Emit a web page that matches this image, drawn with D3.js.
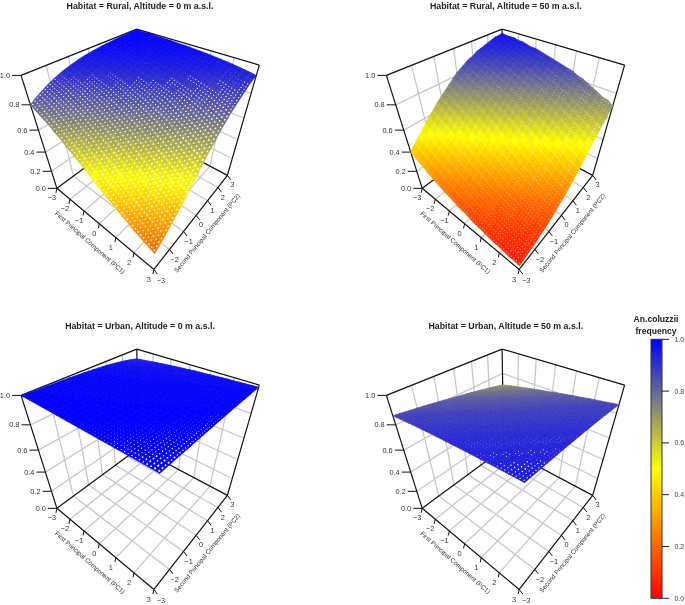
<!DOCTYPE html>
<html><head><meta charset="utf-8">
<script src="https://cdn.jsdelivr.net/npm/d3@7"></script>
<style>
html,body{margin:0;padding:0;background:#fff;overflow:hidden}
svg{display:block;filter:blur(0.4px)}
text{font-family:"Liberation Sans",Arial,sans-serif}
</style></head><body><div id="chart"></div>
<script>
// An. coluzzii frequency in percent. Rows: PC1 from -3 to 3 by 0.25; columns: PC2 from -3 to 3 by 0.25.
const rural0 = [
[80,82.6,84.8,86.9,88.6,90.2,91.6,92.8,93.8,94.7,95.5,96.2,96.7,97.2,97.6,98,98.3,98.5,98.8,99,99.1,99.2,99.4,99.5,99.5],
[78,81,83,85,87,89,91,92,93,94,95,96,96,97,97,98,98,98,99,99,99,99,99,99,99.5],
[76,79,82,84,86,88,90,91,92,93,94,95,96,96,97,97,98,98,98,99,99,99,99,99,99.4],
[74,77,80,82,85,87,88,90,91,93,94,95,95,96,97,97,98,98,98,99,99,99,99,99,99.3],
[72,75,78,81,83,85,87,89,91,92,93,94,95,96,96,97,97,98,98,98,99,99,99,99,99.3],
[69,73,76,79,81,84,86,88,89,91,92,93,94,95,96,96,97,97,98,98,98,99,99,99,99.2],
[67,70,74,77,79,82,84,86,88,90,91,93,94,95,95,96,97,97,98,98,98,98,99,99,99.1],
[64,68,71,75,78,80,83,85,87,89,90,92,93,94,95,96,96,97,97,98,98,98,99,99,99],
[61,65,69,72,75,78,81,83,86,88,89,91,92,93,94,95,96,96,97,97,98,98,98,99,98.9],
[59,63,66,70,73,76,79,82,84,86,88,90,91,92,94,94,95,96,97,97,98,98,98,98,98.7],
[56,60,64,68,71,74,77,80,83,85,87,89,90,92,93,94,95,96,96,97,97,98,98,98,98.5],
[53,57,61,65,68,72,75,78,81,83,85,87,89,91,92,93,94,95,96,96,97,97,98,98,98.4],
[50,54,58,62,66,70,73,76,79,82,84,86,88,90,91,92,93,94,95,96,96,97,97,98,98.2],
[47,51,55,59,63,67,71,74,77,80,82,85,87,88,90,91,93,94,95,95,96,97,97,98,97.9],
[44,48,52,57,61,65,68,72,75,78,81,83,85,87,89,91,92,93,94,95,96,96,97,97,97.7],
[41,46,50,54,58,62,66,69,73,76,79,81,84,86,88,89,91,92,93,94,95,96,96,97,97.4],
[39,43,47,51,55,59,63,67,70,74,77,80,82,85,87,88,90,91,93,94,95,95,96,97,97.1],
[36,40,44,48,52,56,60,64,68,71,75,78,80,83,85,87,89,90,92,93,94,95,96,96,96.8],
[33,37,41,45,49,53,57,61,65,69,72,76,78,81,83,86,88,89,91,92,93,94,95,96,96.4],
[31,35,38,42,46,50,55,59,63,66,70,73,76,79,82,84,86,88,90,91,92,94,94,95,96],
[28,32,35,39,43,47,52,56,60,64,67,71,74,77,80,83,85,87,89,90,92,93,94,95,95.5],
[26,30,33,37,41,45,49,53,57,61,65,69,72,75,78,81,83,86,88,89,91,92,93,94,95],
[24,27,30,34,38,42,46,50,54,58,62,66,70,73,76,79,82,84,86,88,90,91,92,93,94.4],
[22,25,28,32,35,39,43,47,51,55,60,64,67,71,74,77,80,83,85,87,89,90,92,93,93.8],
[20,23,26,29,33,36,40,44,49,52,57,61,65,68,72,75,78,81,83,85,87,89,91,92,93]];
const rural50 = [
[40,44,48,52,56,60,63,67,70,73,76,79,82,84,86,88,89,91,92,93,94,95,96,96,97],
[37,41,45,49,53,57,61,65,68,71,74,77,80,82,85,87,88,90,91,92,93,94,95,96,96],
[35,39,43,47,50,54,58,62,66,69,73,76,78,81,83,85,87,89,90,92,93,94,95,95,96],
[33,36,40,44,48,52,56,60,63,67,70,73,76,79,82,84,86,88,89,91,92,93,94,95,96],
[30,34,37,41,45,49,53,57,61,65,68,71,74,77,80,82,85,87,88,90,91,92,93,94,95],
[28,32,35,39,43,47,50,54,58,62,66,69,73,76,78,81,83,85,87,89,90,92,93,94,95],
[26,29,33,36,40,44,48,52,56,60,63,67,70,73,76,79,82,84,86,88,89,91,92,93,94],
[24,27,30,34,37,41,45,49,53,57,61,65,68,71,74,77,80,82,85,87,88,90,91,92,93],
[22,25,28,32,35,39,43,47,50,54,58,62,66,69,73,76,78,81,83,85,87,89,90,92,93],
[21,23,26,29,33,36,40,44,48,52,56,60,63,67,70,73,76,79,82,84,86,88,89,91,92],
[19,21,24,27,30,34,37,41,45,49,53,57,61,65,68,71,74,77,80,82,85,87,88,90,91],
[17,20,22,25,28,32,35,39,43,47,50,54,58,62,66,69,73,76,78,81,83,85,87,89,90],
[16,18,21,23,26,29,33,36,40,44,48,52,56,60,63,67,70,73,76,79,82,84,86,88,89],
[15,17,19,21,24,27,30,34,37,41,45,49,53,57,61,65,68,71,74,77,80,82,85,87,88],
[13,15,17,20,22,25,28,32,35,39,43,47,50,54,58,62,66,69,73,76,78,81,83,85,87],
[12,14,16,18,21,23,26,29,33,36,40,44,48,52,56,60,63,67,70,73,76,79,82,84,86],
[11,13,15,17,19,21,24,27,30,34,37,41,45,49,53,57,61,65,68,71,74,77,80,82,85],
[10,12,13,15,17,20,22,25,28,32,35,39,43,47,50,54,58,62,66,69,73,76,78,81,83],
[9,11,12,14,16,18,21,23,26,29,33,36,40,44,48,52,56,60,63,67,70,73,76,79,82],
[8,10,11,13,15,17,19,21,24,27,30,34,37,41,45,49,53,57,61,65,68,71,74,77,80],
[8,9,10,12,13,15,17,20,22,25,28,32,35,39,43,47,50,54,58,62,66,69,73,76,78],
[7,8,9,11,12,14,16,18,21,23,26,29,33,36,40,44,48,52,56,60,63,67,70,73,76],
[6,7,8,10,11,13,15,17,19,21,24,27,30,34,37,41,45,49,53,57,61,65,68,71,74],
[6,7,8,9,10,12,13,15,17,20,22,25,28,32,35,39,43,47,50,54,58,62,66,69,73],
[5,6,7,8,9,11,12,14,16,18,21,23,26,29,33,36,40,44,48,52,56,60,63,67,70]];
const urban0 = [
[99.6,99.5,99.5,99.4,99.3,99.2,99.1,99,98.9,98.7,98.5,98.4,98.1,97.9,97.6,97.3,97,96.6,96.1,95.6,95.1,94.5,93.8,93,92.1],
[100,100,100,99,99,99,99,99,99,99,99,99,98,98,98,98,97,97,97,96,96,95,94,94,92.6],
[100,100,100,99,99,99,99,99,99,99,99,99,98,98,98,98,97,97,97,96,96,95,94,94,93],
[100,100,100,100,99,99,99,99,99,99,99,99,99,98,98,98,98,97,97,97,96,96,95,94,93.4],
[100,100,100,100,99,99,99,99,99,99,99,99,99,98,98,98,98,97,97,97,96,96,95,94,93.9],
[100,100,100,100,100,99,99,99,99,99,99,99,99,99,98,98,98,98,97,97,97,96,96,95,94.2],
[100,100,100,100,100,99,99,99,99,99,99,99,99,99,98,98,98,98,97,97,97,96,96,95,94.6],
[100,100,100,100,100,100,99,99,99,99,99,99,99,99,99,98,98,98,98,97,97,97,96,96,94.9],
[100,100,100,100,100,100,99,99,99,99,99,99,99,99,99,98,98,98,98,97,97,97,96,96,95.3],
[100,100,100,100,100,100,100,99,99,99,99,99,99,99,99,99,98,98,98,98,97,97,97,96,95.6],
[100,100,100,100,100,100,100,99,99,99,99,99,99,99,99,99,98,98,98,98,97,97,97,96,95.9],
[100,100,100,100,100,100,100,100,99,99,99,99,99,99,99,99,99,98,98,98,98,97,97,97,96.1],
[100,100,100,100,100,100,100,100,99,99,99,99,99,99,99,99,99,98,98,98,98,97,97,97,96.4],
[100,100,100,100,100,100,100,100,100,99,99,99,99,99,99,99,99,99,98,98,98,98,97,97,96.7],
[100,100,100,100,100,100,100,100,100,100,99,99,99,99,99,99,99,99,99,98,98,98,98,97,96.9],
[100,100,100,100,100,100,100,100,100,100,99,99,99,99,99,99,99,99,99,98,98,98,98,97,97.1],
[100,100,100,100,100,100,100,100,100,100,100,99,99,99,99,99,99,99,99,99,98,98,98,98,97.3],
[100,100,100,100,100,100,100,100,100,100,100,99,99,99,99,99,99,99,99,99,98,98,98,98,97.5],
[100,100,100,100,100,100,100,100,100,100,100,100,99,99,99,99,99,99,99,99,99,98,98,98,97.7],
[100,100,100,100,100,100,100,100,100,100,100,100,99,99,99,99,99,99,99,99,99,98,98,98,97.9],
[100,100,100,100,100,100,100,100,100,100,100,100,100,99,99,99,99,99,99,99,99,99,98,98,98],
[100,100,100,100,100,100,100,100,100,100,100,100,100,99,99,99,99,99,99,99,99,99,98,98,98.2],
[100,100,100,100,100,100,100,100,100,100,100,100,100,100,99,99,99,99,99,99,99,99,99,98,98.3],
[100,100,100,100,100,100,100,100,100,100,100,100,100,100,99,99,99,99,99,99,99,99,99,98,98.5],
[99.9,99.9,99.9,99.9,99.9,99.8,99.8,99.8,99.8,99.7,99.7,99.7,99.6,99.5,99.5,99.4,99.3,99.3,99.2,99.1,99,98.9,98.8,98.7,98.6]];
const urban50 = [
[86.5,86,85.4,84.8,84.3,83.7,83,82.4,81.8,81.1,80.4,79.7,79,78.3,77.6,76.9,76.1,75.4,74.6,73.8,73,72.2,71.4,70.5,69.4],
[87,87,86,85,85,84,84,83,83,82,81,81,80,79,79,78,77,76,75,75,74,73,72,71,70.5],
[87.5,87,87,86,85,85,84,84,83,83,82,81,81,80,79,79,78,77,76,75,75,74,73,72,71.4],
[88,88,87,87,86,85,85,84,84,83,83,82,81,81,80,79,79,78,77,76,75,75,74,73,72.2],
[88.4,88,88,87,87,86,85,85,84,84,83,83,82,81,81,80,79,79,78,77,76,75,75,74,73],
[88.9,88,88,88,87,87,86,85,85,84,84,83,83,82,81,81,80,79,79,78,77,76,75,75,73.8],
[89.3,89,88,88,88,87,87,86,85,85,84,84,83,83,82,81,81,80,79,79,78,77,76,75,74.6],
[89.7,89,89,88,88,88,87,87,86,85,85,84,84,83,83,82,81,81,80,79,79,78,77,76,75.4],
[90.1,90,89,89,88,88,88,87,87,86,85,85,84,84,83,83,82,81,81,80,79,79,78,77,76.1],
[90.5,90,90,89,89,88,88,88,87,87,86,85,85,84,84,83,83,82,81,81,80,79,79,78,76.9],
[90.8,90,90,90,89,89,88,88,88,87,87,86,85,85,84,84,83,83,82,81,81,80,79,79,77.6],
[91.2,91,90,90,90,89,89,88,88,88,87,87,86,85,85,84,84,83,83,82,81,81,80,79,78.3],
[91.5,91,91,90,90,90,89,89,88,88,88,87,87,86,85,85,84,84,83,83,82,81,81,80,79],
[91.8,92,91,91,90,90,90,89,89,88,88,88,87,87,86,85,85,84,84,83,83,82,81,81,79.7],
[92.2,92,92,91,91,90,90,90,89,89,88,88,88,87,87,86,85,85,84,84,83,83,82,81,80.4],
[92.5,92,92,92,91,91,90,90,90,89,89,88,88,88,87,87,86,85,85,84,84,83,83,82,81.1],
[92.8,92,92,92,92,91,91,90,90,90,89,89,88,88,88,87,87,86,85,85,84,84,83,83,81.8],
[93.1,93,92,92,92,92,91,91,90,90,90,89,89,88,88,88,87,87,86,85,85,84,84,83,82.4],
[93.3,93,93,92,92,92,92,91,91,90,90,90,89,89,88,88,88,87,87,86,85,85,84,84,83],
[93.6,93,93,93,92,92,92,92,91,91,90,90,90,89,89,88,88,88,87,87,86,85,85,84,83.7],
[93.9,94,93,93,93,92,92,92,92,91,91,90,90,90,89,89,88,88,88,87,87,86,85,85,84.3],
[94.1,94,94,93,93,93,92,92,92,92,91,91,90,90,90,89,89,88,88,88,87,87,86,85,84.8],
[94.3,94,94,94,93,93,93,92,92,92,92,91,91,90,90,90,89,89,88,88,88,87,87,86,85.4],
[94.6,94,94,94,94,93,93,93,92,92,92,92,91,91,90,90,90,89,89,88,88,88,87,87,86],
[94.8,94.6,94.3,94.1,93.9,93.6,93.3,93.1,92.8,92.5,92.2,91.8,91.5,91.2,90.8,90.5,90.1,89.7,89.3,88.9,88.4,88,87.5,87,86.5]];

const panelTitles = ["Habitat = Rural, Altitude = 0 m a.s.l.","Habitat = Rural, Altitude = 50 m a.s.l.","Habitat = Urban, Altitude = 0 m a.s.l.","Habitat = Urban, Altitude = 50 m a.s.l."];
const panelData = [rural0, rural50, urban0, urban50];
const pcTicks = [-3,-2,-1,0,1,2,3];
const freqTicks = [0,0.2,0.4,0.6,0.8,1];
const pc1Title = "First Principal Component (PC1)";
const pc2Title = "Second Principal Component (PC2)";
const legendTitle = ["An.coluzzii","frequency"];

const W = 685, H = 605;
const svg = d3.select("#chart").append("svg").attr("width",W).attr("height",H).attr("viewBox",[0,0,W,H]);
const color = d3.scaleLinear().domain([0,0.5,1]).range(["#ff0000","#ffff00","#0000ff"]);
const indexToPC = d3.scaleLinear().domain([0,24]).range([-3,3]);
const fmtTick = d => String(d).replace("-","\u2212");

// Camera calibrated on the frame of the first panel: [PC1, PC2, height] -> screen.
const frameAnchors = [
 [-3,-3,0,57,188],[-1,-3,0,83.3,211.7],[0,-3,0,99,223.3],[1,-3,0,116,237.7],[2,-3,0,134,252.7],[3,-3,0,154,269],
 [3,0,0,197.3,215.7],[3,1,0,207.3,201],[3,2,0,218,188.3],[3,3,0,227,174.5],
 [-3,-3,1,20.7,75],[-3,-3,.8,30.5,105],[-3,-3,.6,38.8,131],[-3,-3,.4,45.5,152],[-3,-3,.2,51.6,171],
 [3,3,1,259,65],[-3,3,1,137,29]];
function solveCamera(a){
  const n=11, A=d3.range(n).map(()=>new Array(n+1).fill(0));
  const add=(r,b)=>{for(let i=0;i<n;i++){for(let j=0;j<n;j++)A[i][j]+=r[i]*r[j];A[i][n]+=r[i]*b;}};
  a.forEach(([X,Y,Z,u,v])=>{
    add([X,Y,Z,1,0,0,0,0,-u*X,-u*Y,-u*Z],u);
    add([0,0,0,0,X,Y,Z,1,-v*X,-v*Y,-v*Z],v);
  });
  for(let c=0;c<n;c++){
    let p=c;for(let r=c+1;r<n;r++)if(Math.abs(A[r][c])>Math.abs(A[p][c]))p=r;
    [A[c],A[p]]=[A[p],A[c]];
    for(let r=0;r<n;r++)if(r!==c){const f=A[r][c]/A[c][c];for(let k=c;k<=n;k++)A[r][k]-=f*A[c][k];}
  }
  return A.map((r,i)=>r[n]/r[i]);
}
const cam = solveCamera(frameAnchors);
function project(X,Y,Z){
  const w=cam[8]*X+cam[9]*Y+cam[10]*Z+1;
  return [(cam[0]*X+cam[1]*Y+cam[2]*Z+cam[3])/w,(cam[4]*X+cam[5]*Y+cam[6]*Z+cam[7])/w];
}
const seg = (g,a,b,stroke,sw)=>{const p=project(...a),q=project(...b);
  g.append("line").attr("x1",p[0]).attr("y1",p[1]).attr("x2",q[0]).attr("y2",q[1]).attr("stroke",stroke).attr("stroke-width",sw);};
const pathOf = d3.line();

const offsets=[[0,0],[365.3,0],[0,320],[365.3,320]];
const titleX=[140,505.8,140,505.8], titleY=[8.5,8.5,328.5,328.5];
const dotRadius=[1.7,1.85,1.5,1.55];

panelData.forEach((values,pi)=>{
  const g=svg.append("g").attr("transform",`translate(${offsets[pi]})`);
  const grid="#c8c8c8", ink="#111";
  pcTicks.slice(1,-1).forEach(t=>{
    seg(g,[t,-3,0],[t,3,0],grid,1.3); seg(g,[-3,t,0],[3,t,0],grid,1.3);
    seg(g,[t,3,0],[t,3,1],grid,1.3); seg(g,[-3,t,0],[-3,t,1],grid,1.3);
  });
  freqTicks.slice(1,-1).forEach(z=>{seg(g,[-3,-3,z],[-3,3,z],grid,1.3);seg(g,[-3,3,z],[3,3,z],grid,1.3);});
  [[[-3,-3,0],[3,-3,0]],[[3,-3,0],[3,3,0]],[[-3,-3,0],[-3,3,0]],[[-3,3,0],[3,3,0]],
   [[-3,-3,0],[-3,-3,1]],[[3,3,0],[3,3,1]],[[-3,3,0],[-3,3,1]],[[-3,-3,1],[-3,3,1]],[[-3,3,1],[3,3,1]]]
   .forEach(([a,b])=>seg(g,a,b,ink,1.2));
  const tickTxt="#333", fs=7.4;
  const label=(x,y,s,anc)=>g.append("text").attr("x",x).attr("y",y).attr("dy","0.35em").attr("text-anchor",anc||"middle").attr("font-size",fs).attr("fill",tickTxt).text(s);
  pcTicks.forEach(t=>{
    const p=project(t,-3,0);
    g.append("line").attr("x1",p[0]).attr("y1",p[1]).attr("x2",p[0]-1).attr("y2",p[1]+4.5).attr("stroke",ink).attr("stroke-width",1);
    label(p[0]-5,p[1]+9.5,fmtTick(t));
    const q=project(3,t,0);
    g.append("line").attr("x1",q[0]).attr("y1",q[1]).attr("x2",q[0]+3.5).attr("y2",q[1]+4.5).attr("stroke",ink).attr("stroke-width",1);
    label(q[0]+5+(t===-3?2:0),q[1]+9.5+(t===-3?1.5:0),fmtTick(t));
  });
  freqTicks.forEach(z=>{
    const p=project(-3,-3,z);
    g.append("line").attr("x1",p[0]).attr("y1",p[1]).attr("x2",p[0]-9).attr("y2",p[1]).attr("stroke",ink).attr("stroke-width",1);
    label(p[0]-11,p[1],z.toFixed(1),"end");
  });
  g.append("text").attr("transform","translate(90,242.5) rotate(41.5)").attr("text-anchor","middle").attr("dy","0.35em").attr("font-size",6.3).attr("fill",tickTxt).text(pc1Title);
  g.append("text").attr("transform","translate(207,233) rotate(-50.6)").attr("text-anchor","middle").attr("dy","0.35em").attr("font-size",6.3).attr("fill",tickTxt).text(pc2Title);

  // surface: one facet between each four neighbouring table values, farthest first
  const corner=(i,j)=>project(indexToPC(i),indexToPC(j),values[i][j]/100);
  const cells=[];
  d3.range(24).forEach(i=>d3.range(24).forEach(j=>{
    cells.push({i,j,c:[corner(i,j),corner(i+1,j),corner(i+1,j+1),corner(i,j+1)],
      v:(values[i][j]+values[i+1][j]+values[i+1][j+1]+values[i][j+1])/400});
  }));
  cells.sort((a,b)=>(a.i-a.j)-(b.i-b.j));
  g.append("g").selectAll("path").data(cells).join("path")
    .attr("d",d=>pathOf(d.c)+"Z").attr("fill",d=>color(d.v)).attr("stroke",d=>color(d.v)).attr("stroke-width",0.7);
  // the small white gaps between the original's printed dots
  const gaps=[];
  cells.forEach(d=>{
    const [a,b,c,e]=d.c;
    const half=Math.min(Math.hypot(a[0]-c[0],a[1]-c[1]),Math.hypot(b[0]-e[0],b[1]-e[1]))/4;
    const r=half-dotRadius[pi];
    if(r>0.12)[[.25,.25],[.75,.25],[.25,.75],[.75,.75]].forEach(([u,w])=>{
      gaps.push({r,
        x:(1-u)*(1-w)*a[0]+u*(1-w)*b[0]+u*w*c[0]+(1-u)*w*e[0],
        y:(1-u)*(1-w)*a[1]+u*(1-w)*b[1]+u*w*c[1]+(1-u)*w*e[1]});
    });
  });
  g.append("g").selectAll("circle").data(gaps).join("circle")
    .attr("cx",d=>d.x).attr("cy",d=>d.y).attr("r",d=>d.r).attr("fill","#fff");
  svg.append("text").attr("x",titleX[pi]).attr("y",titleY[pi]).attr("text-anchor","middle").attr("font-weight","bold").attr("font-size",8.8).attr("fill","#222").text(panelTitles[pi]);
});

// colour bar
const barY=d3.scaleLinear().domain([0,1]).range([598.3,339.3]);
const defs=svg.append("defs");
const lg=defs.append("linearGradient").attr("id","bar").attr("x1",0).attr("x2",0).attr("y1",1).attr("y2",0);
lg.selectAll("stop").data(color.domain()).join("stop").attr("offset",d=>d).attr("stop-color",d=>color(d));
svg.append("rect").attr("x",651).attr("y",barY(1)).attr("width",11).attr("height",barY(0)-barY(1)).attr("fill","url(#bar)").attr("stroke","#333").attr("stroke-width",1);
freqTicks.forEach(z=>{
  svg.append("line").attr("x1",662).attr("x2",669).attr("y1",barY(z)).attr("y2",barY(z)).attr("stroke","#222").attr("stroke-width",1);
  svg.append("text").attr("x",674.5).attr("y",barY(z)).attr("dy","0.35em").attr("font-size",7).attr("fill","#444").text(z.toFixed(1));
});
legendTitle.forEach((t,i)=>svg.append("text").attr("x",656).attr("y",322+12*i).attr("text-anchor","middle").attr("font-weight","bold").attr("font-size",8.6).attr("fill","#222").text(t));
</script></body></html>
